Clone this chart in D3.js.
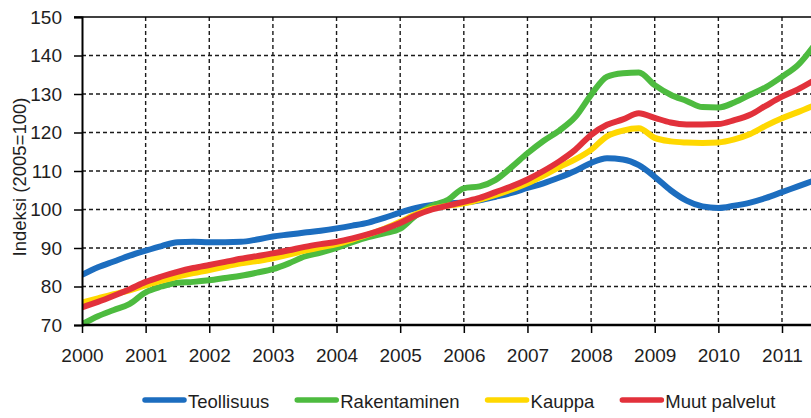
<!DOCTYPE html>
<html>
<head>
<meta charset="utf-8">
<script src="https://cdn.jsdelivr.net/npm/d3@7"></script>
<style>
  html, body { margin: 0; padding: 0; background: #fff; }
  svg { display: block; font-family: "Liberation Sans", Arial, sans-serif; }
</style>
</head>
<body>
<svg id="chart" width="811" height="418"></svg>
<script>
// ---- Data (quarterly readings, decimal years) ----
const times = d3.range(0, 47).map(i => 2000 + i * 0.25);

const teollisuus = [83, 85, 86.5, 88, 89.3, 90.5, 91.5, 91.6, 91.5, 91.5, 91.6, 92.2,
  93, 93.5, 94, 94.5, 95.1, 95.8, 96.6, 97.8, 99.2, 100.4, 101.2, 101.6,
  101.8, 102.4, 103.3, 104.3, 105.6, 106.8, 108.3, 110, 112.1, 113.3, 113, 111.5,
  108.5, 105, 102.3, 100.8, 100.4, 101, 101.8, 103, 104.5, 106, 107.5];

const rakentaminen = [70.2, 72.3, 73.9, 75.5, 78.5, 80, 81, 81.2, 81.6, 82.2, 82.8, 83.6,
  84.5, 86, 87.8, 88.8, 90, 91.5, 92.8, 93.8, 95, 98.5, 101, 102.5,
  105.5, 106, 107.7, 111, 114.6, 117.8, 120.5, 124, 129.8, 134.5, 135.4, 135.6,
  132.3, 129.8, 128.2, 126.6, 126.5, 127.8, 129.8, 131.8, 134.5, 137.5, 142.5];

const kauppa = [75.8, 76.9, 78, 79, 80.3, 81.5, 82.6, 83.5, 84.3, 85.2, 86, 86.6,
  87.3, 88.3, 89.3, 90.2, 91, 92.2, 93.5, 95, 96.8, 98.8, 100.2, 101,
  101.6, 102.6, 103.8, 105.2, 106.8, 108.8, 111, 113, 115.5, 119, 120.5, 121.1,
  118.6, 117.7, 117.4, 117.3, 117.4, 118.2, 119.6, 121.8, 123.7, 125.3, 127];

const muutPalvelut = [74.6, 76, 77.6, 79.3, 81.2, 82.6, 83.8, 84.8, 85.6, 86.4, 87.2, 87.9,
  88.6, 89.4, 90.3, 91, 91.6, 92.5, 93.6, 94.9, 96.5, 98.5, 100, 101,
  102, 103, 104.5, 106, 107.8, 110, 112.5, 115.5, 119.4, 122, 123.4, 125,
  123.8, 122.6, 122.1, 122.1, 122.2, 123.2, 124.6, 127, 129.3, 131.2, 133.5];

const seriesNames = ["Teollisuus", "Rakentaminen", "Kauppa", "Muut palvelut"];
const seriesValues = [teollisuus, rakentaminen, kauppa, muutPalvelut];
const seriesColors = ["#1c6dbf", "#4dbb3f", "#ffd800", "#e2313b"];

const xTicks = d3.range(2000, 2012);
const yTicks = [70, 80, 90, 100, 110, 120, 130, 140, 150];
const yTitle = "Indeksi (2005=100)";

// ---- Layout ----
const svg = d3.select("#chart");
const pLeft = 82, pRight = 811, pTop = 17, pBottom = 325;
const fontFam = "Liberation Sans, Arial, sans-serif";
const textColor = "#1e1e1e";

const x = d3.scaleLinear().domain([2000, 2011]).range([pLeft, 782]);
const y = d3.scaleLinear().domain([70, 150]).range([pBottom, pTop]);

const gridColor = "#1a1a1a";

// horizontal gridlines (dashed)
svg.append("g").selectAll("line")
  .data(yTicks.filter(v => v !== 70 && v !== 150))
  .join("line")
  .attr("x1", pLeft).attr("x2", pRight)
  .attr("y1", d => y(d)).attr("y2", d => y(d))
  .attr("stroke", gridColor).attr("stroke-width", 1.4)
  .attr("stroke-dasharray", "4,3");

// vertical gridlines (dashed)
svg.append("g").selectAll("line")
  .data(xTicks.filter(v => v !== 2000))
  .join("line")
  .attr("x1", d => x(d)).attr("x2", d => x(d))
  .attr("y1", pTop).attr("y2", pBottom)
  .attr("stroke", gridColor).attr("stroke-width", 1.4)
  .attr("stroke-dasharray", "4,3");

// top frame line
svg.append("line")
  .attr("x1", pLeft - 8).attr("x2", pRight)
  .attr("y1", y(150)).attr("y2", y(150))
  .attr("stroke", "#000").attr("stroke-width", 1.5);

// clip
svg.append("clipPath").attr("id", "clip")
  .append("rect").attr("x", pLeft).attr("y", 0).attr("width", pRight - pLeft).attr("height", 418);

const line = d3.line()
  .x(d => x(d[0]))
  .y(d => y(d[1]))
  .curve(d3.curveMonotoneX);

const linesG = svg.append("g").attr("clip-path", "url(#clip)");
seriesValues.forEach((vals, i) => {
  linesG.append("path")
    .datum(times.map((t, j) => [t, vals[j]]))
    .attr("d", line)
    .attr("fill", "none")
    .attr("stroke", seriesColors[i])
    .attr("stroke-width", 6)
    .attr("stroke-linejoin", "round");
});

// Y axis
const yAxis = d3.axisLeft(y).tickValues(yTicks).tickSize(8).tickPadding(12);
const yG = svg.append("g").attr("transform", `translate(${pLeft},0)`).call(yAxis);
yG.select(".domain").attr("stroke", "#000").attr("stroke-width", 2);
yG.selectAll(".tick line").attr("stroke", "#000").attr("stroke-width", 1.5);
yG.selectAll(".tick text").attr("font-size", 19).attr("fill", textColor)
  .attr("font-family", fontFam);

// X axis
const xAxis = d3.axisBottom(x).tickValues(xTicks).tickFormat(d3.format("d")).tickSize(8).tickPadding(16);
const xG = svg.append("g").attr("transform", `translate(0,${pBottom})`).call(xAxis);
xG.select(".domain").attr("stroke", "#000").attr("stroke-width", 2.5)
  .attr("d", `M${pLeft},0H${pRight}`);
xG.selectAll(".tick line").attr("stroke", "#000").attr("stroke-width", 1.5);
xG.selectAll(".tick text").attr("font-size", 19).attr("fill", textColor)
  .attr("font-family", fontFam);

// Y title
svg.append("text")
  .attr("transform", `translate(26,177) rotate(-90)`)
  .attr("text-anchor", "middle")
  .attr("font-size", 18.5)
  .attr("fill", textColor)
  .text(yTitle);

// Legend
const legend = svg.append("g");
let lx = 142;
const ly = 400;
seriesNames.forEach((name, i) => {
  legend.append("line")
    .attr("x1", lx + 3).attr("x2", lx + 42)
    .attr("y1", ly).attr("y2", ly)
    .attr("stroke", seriesColors[i]).attr("stroke-width", 5.5)
    .attr("stroke-linecap", "round");
  const t = legend.append("text")
    .attr("x", lx + 46).attr("y", ly + 8)
    .attr("font-size", 18.5).attr("fill", textColor)
    .text(name);
  lx = lx + 46 + t.node().getComputedTextLength() + 25;
});
</script>
</body>
</html>
